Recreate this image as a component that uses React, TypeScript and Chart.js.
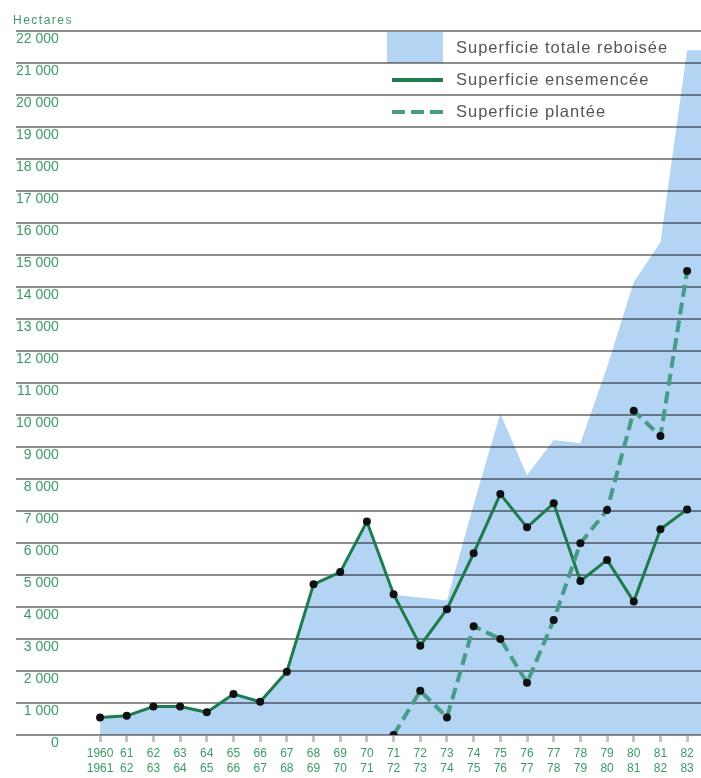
import { useEffect, useRef } from 'react';
import { Chart, registerables } from 'chart.js';

Chart.register(...registerables);

// Campaign years (two-line tick labels)
const YEAR_FROM = ['1960', '61', '62', '63', '64', '65', '66', '67', '68', '69', '70', '71', '72', '73', '74', '75', '76', '77', '78', '79', '80', '81', '82'];
const YEAR_TO = ['1961', '62', '63', '64', '65', '66', '67', '68', '69', '70', '71', '72', '73', '74', '75', '76', '77', '78', '79', '80', '81', '82', '83'];

// Hectares
const TOTAL_REFORESTED = [550, 600, 890, 890, 710, 1280, 1040, 1980, 4710, 5090, 6670, 4380, 4300, 4200, 7200, 10050, 8120, 9220, 9120, 11500, 14150, 15400, 21400];
const SEEDED = [550, 600, 890, 890, 710, 1280, 1040, 1980, 4710, 5090, 6670, 4400, 2790, 3930, 5680, 7530, 6490, 7240, 4810, 5470, 4170, 6430, 7050];
const PLANTED: (number | null)[] = [null, null, null, null, null, null, null, null, null, null, null, 0, 1380, 550, 3400, 3000, 1630, 3590, 5990, 7030, 10130, 9340, 14500];

const Y_MAX = 22000;
const Y_STEP = 1000;

const UNIT_LABEL = 'Hectares';
const TOTAL_LABEL = 'Superficie totale reboisée';
const SEEDED_LABEL = 'Superficie ensemencée';
const PLANTED_LABEL = 'Superficie plantée';

// x axis range (category index units) so that the plot spans the full width
const X_MIN = -3.15;
const X_MAX = 22.52;

const AREA_COLOR = '#b4d4f4';
const SEEDED_COLOR = '#1d7b4c';
const PLANTED_COLOR = '#479c88';
const AXIS_TEXT = '#3d9a66';
const LEGEND_TEXT = '#555555';
const GRID_COLOR = '#8e8e8e';
const FONT = '"Liberation Sans", Arial, Helvetica, sans-serif';

const fmt = (v: number) => String(v).replace(/\B(?=(\d{3})+(?!\d))/g, ' ');

const multiplyPlugin = {
  id: 'multiplyArea',
  beforeDatasetsDraw(chart: any) {
    chart.ctx.save();
    chart.ctx.globalCompositeOperation = 'multiply';
  },
  afterDatasetDraw(chart: any, args: any) {
    if (args.index === 0) chart.ctx.restore();
  },
};

const legendPlugin = {
  id: 'customLegend',
  afterDraw(chart: any) {
    const { ctx } = chart;
    const y = chart.scales.y;
    const ds = chart.data.datasets;
    ctx.save();
    (ctx as any).letterSpacing = '1.5px';
    ctx.font = `12px ${FONT}`;
    ctx.fillStyle = AXIS_TEXT;
    ctx.textAlign = 'left';
    ctx.textBaseline = 'middle';
    ctx.fillText(UNIT_LABEL, 13, 21);

    const rowMid = (i: number) => (y.getPixelForValue(Y_MAX - i * Y_STEP) + y.getPixelForValue(Y_MAX - (i + 1) * Y_STEP)) / 2;
    const rowTop = (i: number) => y.getPixelForValue(Y_MAX - i * Y_STEP);
    const rowBot = (i: number) => y.getPixelForValue(Y_MAX - (i + 1) * Y_STEP);
    const sx0 = 387;
    const sx1 = 443;
    const tx = 456;

    // area swatch
    ctx.globalCompositeOperation = 'multiply';
    ctx.fillStyle = ds[0].backgroundColor;
    ctx.fillRect(sx0, rowTop(0) + 1, sx1 - sx0, rowBot(0) - rowTop(0) - 1);
    ctx.globalCompositeOperation = 'source-over';

    // solid line swatch
    ctx.strokeStyle = ds[1].borderColor;
    ctx.lineWidth = 4;
    ctx.beginPath();
    ctx.moveTo(sx0 + 5, rowMid(1) + 1);
    ctx.lineTo(sx1, rowMid(1) + 1);
    ctx.stroke();

    // dashed line swatch
    ctx.strokeStyle = ds[2].borderColor;
    ctx.setLineDash([13, 6]);
    ctx.beginPath();
    ctx.moveTo(sx0 + 5, rowMid(2) + 1);
    ctx.lineTo(sx1, rowMid(2) + 1);
    ctx.stroke();
    ctx.setLineDash([]);

    (ctx as any).letterSpacing = '1px';
    ctx.font = `16.5px ${FONT}`;
    ctx.fillStyle = LEGEND_TEXT;
    for (let i = 0; i < 3; i++) {
      ctx.fillText(ds[i].label, tx, rowMid(i) + 1);
    }
    ctx.restore();
  },
};

export default function App() {
  const ref = useRef<HTMLCanvasElement>(null);

  useEffect(() => {
    document.body.style.margin = '0';
    const canvas = ref.current;
    if (!canvas) return;
    const lastTotal = TOTAL_REFORESTED[TOTAL_REFORESTED.length - 1];
    const chart = new Chart(canvas, {
      type: 'line',
      data: {
        datasets: [
          {
            label: TOTAL_LABEL,
            data: [...TOTAL_REFORESTED.map((v, i) => ({ x: i, y: v })), { x: X_MAX, y: lastTotal }],
            fill: 'origin',
            backgroundColor: AREA_COLOR,
            borderWidth: 0,
            borderColor: 'rgba(0,0,0,0)',
            pointRadius: 0,
            tension: 0,
            order: 3,
          },
          {
            label: SEEDED_LABEL,
            data: SEEDED.map((v, i) => ({ x: i, y: v })),
            fill: false,
            borderColor: SEEDED_COLOR,
            borderWidth: 3,
            pointRadius: 4,
            pointBackgroundColor: '#111111',
            pointBorderWidth: 0,
            tension: 0,
            order: 2,
          },
          {
            label: PLANTED_LABEL,
            data: PLANTED.map((v, i) => ({ x: i, y: v })).filter((p) => p.y !== null),
            fill: false,
            borderColor: PLANTED_COLOR,
            borderWidth: 4,
            borderDash: [12, 6],
            pointRadius: 4,
            pointBackgroundColor: '#111111',
            pointBorderWidth: 0,
            tension: 0,
            order: 1,
          },
        ],
      } as any,
      options: {
        responsive: false,
        maintainAspectRatio: false,
        animation: false,
        layout: { autoPadding: false, padding: { left: 16, right: 0, top: 31, bottom: 0 } },
        plugins: {
          legend: { display: false },
          tooltip: { enabled: false },
          title: { display: false },
        },
        scales: {
          x: {
            type: 'linear',
            min: X_MIN,
            max: X_MAX,
            bounds: 'data',
            afterBuildTicks: (axis: any) => {
              axis.ticks = YEAR_FROM.map((_, i) => ({ value: i }));
            },
            afterFit: (scale: any) => {
              scale.height = 43;
              scale.paddingLeft = 0;
              scale.paddingRight = 0;
            },
            grid: {
              drawOnChartArea: false,
              drawTicks: true,
              tickLength: 7,
              color: '#c4c4c4',
              lineWidth: 3,
            },
            border: { display: false },
            ticks: {
              autoSkip: false,
              maxRotation: 0,
              minRotation: 0,
              padding: 4,
              color: AXIS_TEXT,
              font: { family: FONT, size: 12, lineHeight: 1.25 },
              callback: (value: any) => {
                const i = Number(value);
                if (Number.isInteger(i) && i >= 0 && i < YEAR_FROM.length) return [YEAR_FROM[i], YEAR_TO[i]];
                return '';
              },
            },
          },
          y: {
            min: 0,
            max: Y_MAX,
            afterFit: (scale: any) => {
              scale.paddingTop = 0;
              scale.paddingBottom = 0;
            },
            grid: { color: GRID_COLOR, lineWidth: 2, drawTicks: false },
            border: { display: false },
            ticks: {
              stepSize: Y_STEP,
              mirror: true,
              crossAlign: 'far',
              padding: 0,
              labelOffset: 8,
              color: AXIS_TEXT,
              font: { family: FONT, size: 14 },
              callback: (value: any) => fmt(Number(value)),
            },
          },
        },
      } as any,
      plugins: [multiplyPlugin, legendPlugin],
    });
    return () => chart.destroy();
  }, []);

  return (
    <div style={{ position: 'absolute', left: 0, top: 0, width: 701, height: 778, background: '#ffffff' }}>
      <canvas ref={ref} width={701} height={778} style={{ display: 'block', width: 701, height: 778 }} />
    </div>
  );
}
